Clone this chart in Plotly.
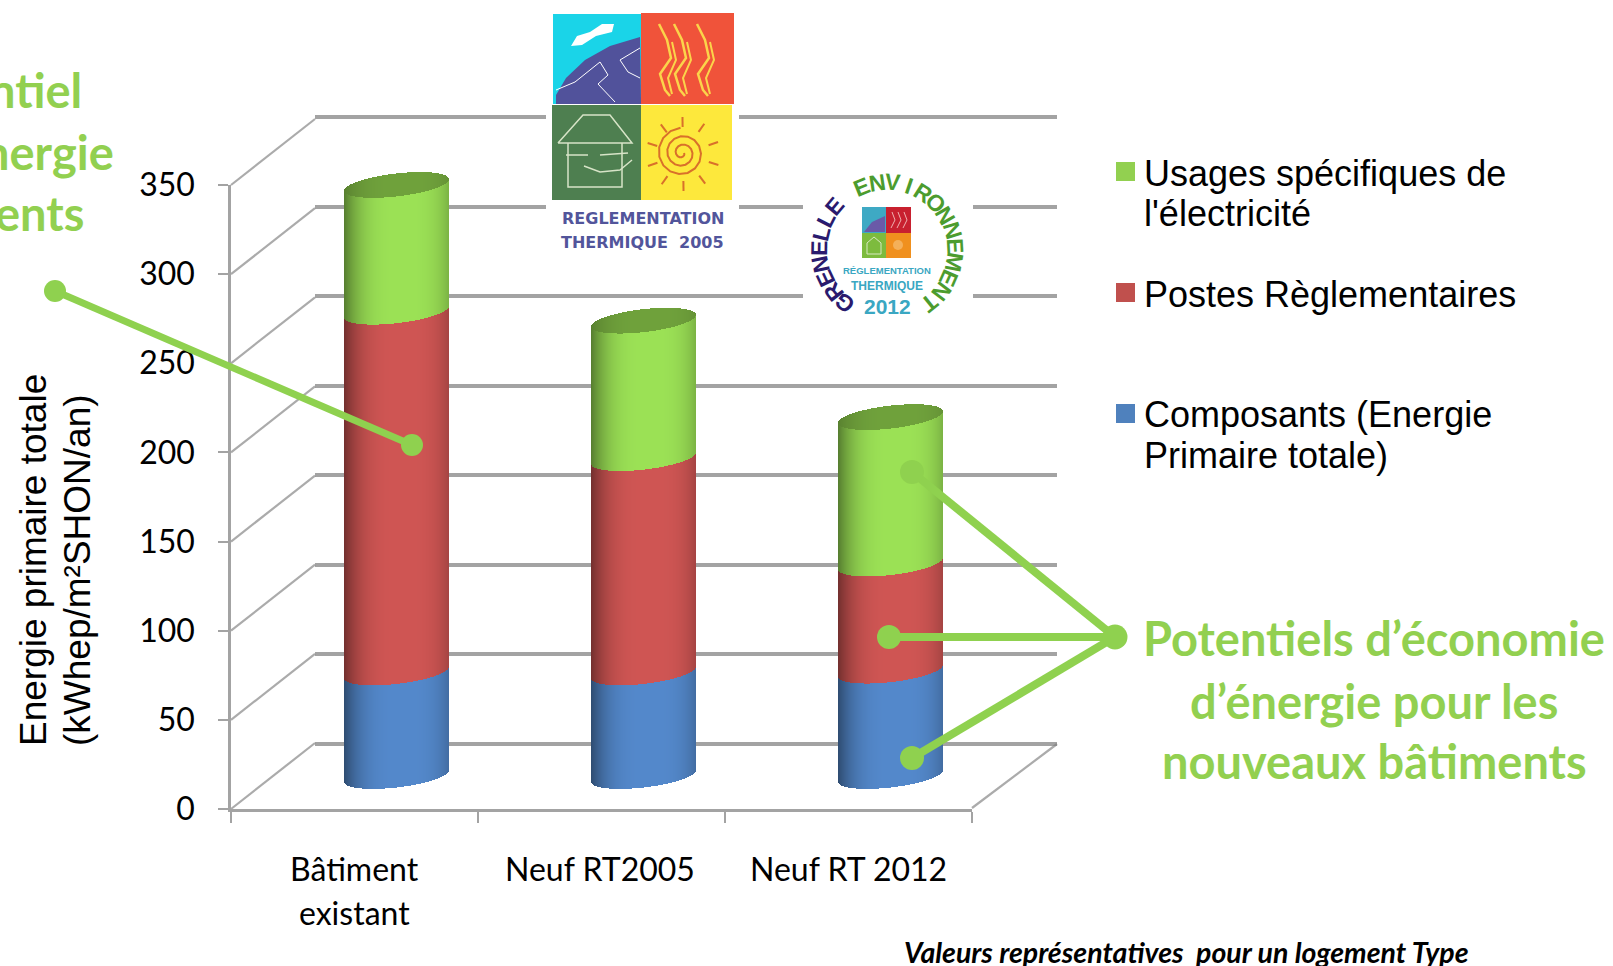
import math
import plotly.graph_objects as go

W, H = 1613, 966

categories = [["Bâtiment", "existant"], ["Neuf RT2005"], ["Neuf RT 2012"]]
composants = [58, 58, 59]
postes = [202, 120, 60]
usages = [71, 77, 82]
y_ticks = [0, 50, 100, 150, 200, 250, 300, 350]

series = [
    ("Composants (Energie Primaire totale)", composants, (84, 137, 204), "#4f81bd"),
    ("Postes Règlementaires", postes, (208, 86, 84), "#c0504d"),
    ("Usages spécifiques de l'électricité", usages, (156, 226, 86), "#92d050"),
]
CALLOUT = "#8fd14f"
GRID = "rgba(128,128,128,0.72)"
AXIS = "#a3a3a3"

positions = [i + 0.5 for i in range(len(composants))]


def px(x):
    return x / W


def py(y):
    return 1 - y / H


def dom_x(a, b):
    return [px(a), px(b)]


def dom_y(bottom, top):
    return [py(bottom), py(top)]


fig = go.Figure()

# --- cylinders: real stacked values underneath, shaded slices on top
BAR_W = 105 / 247
N = 105
TILT = 5.8 / 1.786
ELL = 11.5 / 1.786


def shade(rgb, u, k=1.0):
    d = abs(u - 0.12) / 1.12
    m = 1 - 0.45 * k * d ** 3.2
    return "rgb(%d,%d,%d)" % tuple(int(c * m) for c in rgb)


def front(v, u):
    return v + TILT * u - ELL * math.sqrt(max(0, 1 - u * u))


def back(v, u):
    return v + TILT * u + ELL * math.sqrt(max(0, 1 - u * u))


bases = [0] * len(composants)
slice_traces = []
for name, vals, rgb, flat in series:
    fig.add_trace(go.Bar(x=positions, y=vals, base=list(bases), width=BAR_W * 0.8, name=name,
                         marker=dict(color=flat, line=dict(width=0)), xaxis="x2", yaxis="y2",
                         showlegend=False, hoverinfo="skip"))
    xs, bs, hs, cs = [], [], [], []
    for c, b0, v in zip(positions, bases, vals):
        for i in range(N):
            u = -1 + (i + 0.5) * 2 / N
            xs.append(c + u * BAR_W / 2)
            lo, hi = front(b0, u), front(b0 + v, u)
            bs.append(lo)
            hs.append(hi - lo)
            cs.append(shade(rgb, u))
    slice_traces.append(go.Bar(x=xs, y=hs, base=bs, width=BAR_W / N, marker=dict(color=cs, line=dict(width=0)),
                               xaxis="x2", yaxis="y2", showlegend=False, hoverinfo="skip"))
    bases = [a + b for a, b in zip(bases, vals)]

xs, bs, hs, cs = [], [], [], []
for c, t in zip(positions, bases):
    for i in range(N):
        u = -1 + (i + 0.5) * 2 / N
        xs.append(c + u * BAR_W / 2)
        lo, hi = front(t, u), back(t, u)
        bs.append(lo)
        hs.append(hi - lo)
        cs.append(shade((112, 162, 60), u, 0.45))
slice_traces.append(go.Bar(x=xs, y=hs, base=bs, width=BAR_W / N, marker=dict(color=cs, line=dict(width=0)),
                           xaxis="x2", yaxis="y2", showlegend=False, hoverinfo="skip"))
for t in slice_traces:
    fig.add_trace(t)

# invisible traces so the back and front axes exist
fig.add_trace(go.Scatter(x=[0], y=[0], xaxis="x", yaxis="y", mode="none", showlegend=False, hoverinfo="skip"))
fig.add_trace(go.Scatter(x=[0], y=[0], xaxis="x3", yaxis="y3", mode="none", showlegend=False, hoverinfo="skip"))

shapes, anns = [], []


def line(x0, y0, x1, y1, color, width, layer="above"):
    shapes.append(dict(type="line", xref="paper", yref="paper", x0=px(x0), y0=py(y0), x1=px(x1), y1=py(y1),
                       line=dict(color=color, width=width), layer=layer))


def rect(x0, y0, x1, y1, color):
    shapes.append(dict(type="rect", xref="paper", yref="paper", x0=px(x0), y0=py(y0), x1=px(x1), y1=py(y1),
                       fillcolor=color, line=dict(width=0), layer="above"))


def dot(x, y, r, color):
    shapes.append(dict(type="circle", xref="paper", yref="paper", x0=px(x - r), y0=py(y - r), x1=px(x + r), y1=py(y + r),
                       fillcolor=color, line=dict(width=0), layer="above"))


def path(pts, color=None, fill=None, width=1.5, close=False):
    d = "M" + " L".join("%.5f,%.5f" % (px(x), py(y)) for x, y in pts) + (" Z" if close else "")
    shapes.append(dict(type="path", xref="paper", yref="paper", path=d, fillcolor=fill or "rgba(0,0,0,0)",
                       line=dict(color=color or "rgba(0,0,0,0)", width=width if color else 0), layer="above"))


def text(x, y, s, size, color="#000000", family="Liberation Sans", anchor="left", bold=False, italic=False, angle=0):
    if bold:
        s = "<b>%s</b>" % s
    if italic:
        s = "<i>%s</i>" % s
    anns.append(dict(xref="paper", yref="paper", x=px(x), y=py(y), text=s, showarrow=False, xanchor=anchor,
                     yanchor="middle", textangle=angle, font=dict(size=size, color=color, family=family),
                     borderpad=0, align=anchor))


# --- depth lines of the floor and side wall
DX, DY = 84, -66
FRONT_0, FRONT_TOP = 809, 185
for v in y_ticks:
    y = FRONT_0 + (FRONT_TOP - FRONT_0) * v / 350
    line(231, y, 231 + DX, y + DY, "#ababab", 2.2, layer="below")
line(972, 808, 1057, 744, "#ababab", 2.2, layer="below")

# --- category labels, y axis title
label_x = [354, 600, 848]
for c, lx in zip(categories, label_x):
    for j, part in enumerate(c):
        text(lx, 868 + 44 * j, part, 32, anchor="center", family="Lato")
text(33, 560, "Energie primaire totale", 37, anchor="center", angle=-90)
text(77, 570, "(kWhep/m²SHON/an)", 37, anchor="center", angle=-90)

# --- legend
legend_rows = [(172, series[2][3], ["Usages spécifiques de", "l'électricité"]),
               (293, series[1][3], ["Postes Règlementaires"]),
               (414, series[0][3], ["Composants (Energie", "Primaire totale)"])]
for y, col, lines_ in legend_rows:
    rect(1116, y - 10, 1135, y + 9, col)
    for j, part in enumerate(lines_):
        text(1143, y + 1 + 40 * j, part, 36)

# --- RT 2005 logo
rect(546, 0, 739, 252, "#ffffff")
rect(553, 14, 641, 104, "#1ad4e8")
rect(641, 13, 734, 104, "#f0533a")
rect(552, 105, 641, 200, "#4e7f50")
rect(641, 105, 732, 200, "#fde83c")
path([(556, 95), (566, 78), (585, 60), (610, 46), (640, 37), (641, 104), (556, 104)], fill="#51529b", close=True)
path([(571, 46), (577, 36), (590, 32), (602, 24), (614, 24), (612, 32), (596, 36), (582, 45)], fill="#ffffff", close=True)
path([(556, 90), (575, 82), (600, 62), (608, 75), (598, 84), (615, 102)], color="#ffffff", width=1)
path([(640, 48), (620, 60), (628, 72), (640, 78)], color="#ffffff", width=1)
for x0 in (662, 677, 700):
    pts = [(x0 - 3, 24), (x0 + 5, 40), (x0 + 9, 58), (x0 - 2, 74), (x0 + 3, 90), (x0 + 8, 96)]
    path(pts, color="#fbd44a", width=2.5)
    path([(x0 + 10, 42), (x0 + 14, 60), (x0 + 6, 78), (x0 + 10, 94)], color="#fbd44a", width=2)
path([(558, 143), (583, 115), (610, 115), (632, 143), (558, 143), (568, 143), (568, 187), (622, 187), (622, 143)],
     color="#d7e4c7", width=1.5)
path([(566, 155), (588, 155)], color="#d7e4c7", width=1.5)
path([(600, 155), (628, 153)], color="#d7e4c7", width=1.5)
path([(584, 166), (600, 172), (620, 170), (632, 160)], color="#d7e4c7", width=1.5)
spiral = []
for i in range(42):
    a = i * 0.42
    r = 2 + a * 1.35
    spiral.append((682 + r * math.cos(a), 153 + r * math.sin(a)))
path(spiral, color="#d9702a", width=2)
for k in range(10):
    a = k * 2 * math.pi / 10 + 0.3
    path([(683 + 27 * math.cos(a), 154 + 27 * math.sin(a)), (683 + 37 * math.cos(a), 154 + 37 * math.sin(a))],
         color="#d9702a", width=2)
text(642.5, 218, "REGLEMENTATION", 16, color="#52559b", anchor="center", bold=True, family="DejaVu Sans")
text(642.5, 243, "THERMIQUE  2005", 16, color="#52559b", anchor="center", bold=True, family="DejaVu Sans")

# --- RT 2012 logo
rect(803, 175, 973, 322, "#ffffff")
rect(862, 207, 886, 233, "#3ea9c4")
rect(886, 207, 911, 233, "#c8202f")
rect(862, 233, 886, 258, "#7dbb3e")
rect(886, 233, 911, 258, "#f0901e")
path([(864, 232), (872, 222), (885, 216), (885, 232)], fill="#6a5aa8", close=True)
for x0 in (892, 898, 904):
    path([(x0, 212), (x0 + 3, 220), (x0 - 1, 228)], color="#f0b0b0", width=1)
path([(867, 243), (874, 237), (881, 243), (881, 254), (867, 254), (867, 243)], color="#d8e8c0", width=1)
dot(898, 245, 5, "#f4b05a")
text(887, 270, "RÉGLEMENTATION", 9.5, color="#3aa7c2", anchor="center", bold=True)
text(887, 286, "THERMIQUE", 12, color="#3aa7c2", anchor="center", bold=True)
text(887, 307, "2012", 21, color="#3aa7c2", anchor="center", bold=True)
CX, CY, R = 887, 250, 68
for i, ch in enumerate("ENVIRONNEMENT"):
    a = -22 + i * 13.6
    t = math.radians(a)
    text(CX + R * math.sin(t), CY - R * math.cos(t), ch, 23, color="#4c9c2e", anchor="center", bold=True, angle=a)
for i, ch in enumerate("GRENELLE"):
    a = -141 + i * 13.0
    t = math.radians(a)
    text(CX + R * math.sin(t), CY - R * math.cos(t), ch, 23, color="#2a1a6e", anchor="center", bold=True, angle=a)

# --- callouts
line(55, 291, 412, 445, CALLOUT, 7)
dot(55, 291, 11, CALLOUT)
dot(412, 445, 11, CALLOUT)
HUB = (1115, 637)
for ex, ey in [(912, 472), (889, 637), (912, 758)]:
    line(ex, ey, HUB[0], HUB[1], CALLOUT, 8)
    dot(ex, ey, 12, CALLOUT)
dot(HUB[0], HUB[1], 12.5, CALLOUT)

GT = "#92d050"
text(1374, 638, "Potentiels d’économie", 47, color=GT, anchor="center", bold=True, family="Lato")
text(1374, 701, "d’énergie pour les", 47, color=GT, anchor="center", bold=True, family="Lato")
text(1374, 761, "nouveaux bâtiments", 47, color=GT, anchor="center", bold=True, family="Lato")
text(83, 90, "ntiel", 47, color=GT, anchor="right", bold=True, family="Lato")
text(115, 152, "nergie", 47, color=GT, anchor="right", bold=True, family="Lato")
text(85, 213, "ents", 47, color=GT, anchor="right", bold=True, family="Lato")
text(1186, 952, "Valeurs représentatives  pour un logement Type", 28.5, anchor="center", bold=True, italic=True, family="Lato")

hidden = dict(showticklabels=False, ticks="", showline=False, zeroline=False, showgrid=False, range=[0, 3],
              fixedrange=True, automargin=False)

# axes padded below/above 0..350 so no gridline or cylinder edge is clipped
BACK_PAD = 5
BACK_K = (744 - 117) / 350
MID_PAD = 20
MID_K = (776 - 151) / 350

fig.update_layout(
    template="none",
    width=W, height=H, margin=dict(l=0, r=0, t=0, b=0, pad=0), autosize=False,
    paper_bgcolor="#ffffff", plot_bgcolor="rgba(0,0,0,0)",
    barmode="overlay", bargap=0, showlegend=False,
    # back wall
    xaxis=dict(domain=dom_x(315, 1057), anchor="y", **hidden),
    yaxis=dict(domain=dom_y(744 + BACK_PAD * BACK_K, 117 - BACK_PAD * BACK_K), anchor="x",
               range=[-BACK_PAD, 350 + BACK_PAD], tickvals=y_ticks, showgrid=True, gridcolor=GRID,
               gridwidth=3.5, showticklabels=False, ticks="", showline=False, zeroline=False, automargin=False),
    # cylinder plane
    xaxis2=dict(domain=dom_x(273, 1014), anchor="y2", **hidden),
    yaxis2=dict(domain=dom_y(776 + MID_PAD * MID_K, 151), anchor="x2", range=[-MID_PAD, 350], showticklabels=False,
                ticks="", showline=False, zeroline=False, showgrid=False, automargin=False),
    # front axes
    xaxis3=dict(domain=dom_x(231, 972), anchor="y3", range=[0, 3], tickvals=[0, 1, 2, 3], ticks="outside", ticklen=11,
                tickwidth=2, tickcolor=AXIS, showticklabels=False, showline=True, linecolor=AXIS, linewidth=2.5,
                showgrid=False, zeroline=False, automargin=False),
    yaxis3=dict(domain=dom_y(809, 185), anchor="x3", range=[0, 350], tickvals=y_ticks, ticks="outside", ticklen=10,
                tickwidth=2, tickcolor=AXIS, showline=True, linecolor=AXIS, linewidth=2.5, showgrid=False,
                zeroline=False, ticklabelstandoff=17, tickfont=dict(family="Lato", size=32, color="#000000"),
                automargin=False),
    shapes=shapes, annotations=anns,
)

fig.write_html("out.html", config=dict(displayModeBar=False),
               post_script="document.body.style.margin='0';document.body.style.overflow='hidden';")
